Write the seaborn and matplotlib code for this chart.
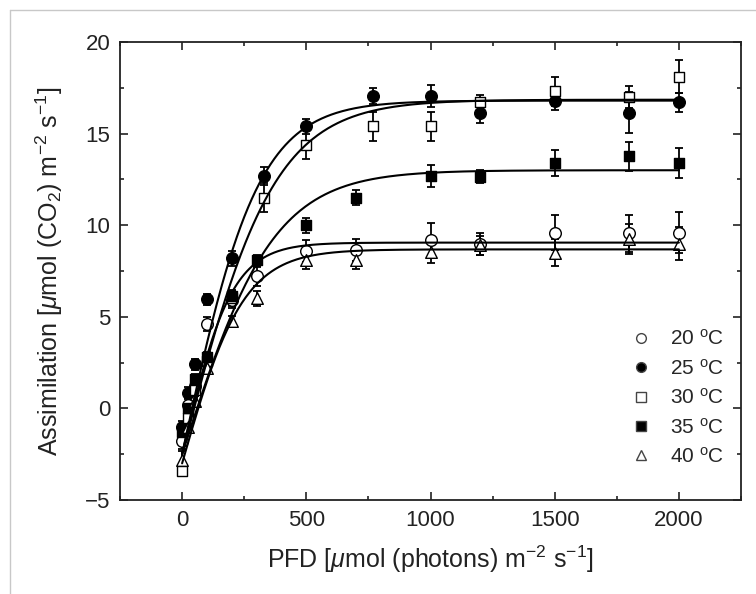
import numpy as np
import pandas as pd
import seaborn as sns
import matplotlib.pyplot as plt
from matplotlib.lines import Line2D
from matplotlib.ticker import MultipleLocator

# --- datos ---
pfd_a = [0, 25, 50, 100, 200, 300, 500, 700, 1000, 1200, 1500, 1800, 2000]
pfd_b = [0, 25, 50, 100, 200, 330, 500, 770, 1000, 1200, 1500, 1800, 2000]

a20 = [-1.8, 0.2, 1.2, 4.6, 5.9, 7.2, 8.6, 8.65, 9.2, 9.0, 9.6, 9.55, 9.6]
e20 = [0.4, 0.3, 0.3, 0.4, 0.4, 0.5, 0.6, 0.6, 0.9, 0.6, 0.95, 1.0, 1.1]
a25 = [-1.0, 0.85, 2.4, 5.95, 8.2, 12.7, 15.4, 17.05, 17.05, 16.1, 16.8, 16.15, 16.7]
e25 = [0.3, 0.3, 0.3, 0.3, 0.4, 0.5, 0.4, 0.45, 0.6, 0.5, 0.5, 1.1, 0.5]
a30 = [-3.4, -0.5, 1.0, 2.6, 6.0, 11.5, 14.4, 15.4, 15.4, 16.7, 17.3, 17.0, 18.1]
e30 = [0.3, 0.3, 0.3, 0.4, 0.4, 0.8, 0.8, 0.8, 0.8, 0.4, 0.8, 0.6, 0.9]
a35 = [-1.3, 0.0, 1.6, 2.8, 6.15, 8.1, 10.0, 11.5, 12.7, 12.65, 13.4, 13.75, 13.4]
e35 = [0.3, 0.3, 0.3, 0.3, 0.3, 0.3, 0.4, 0.4, 0.6, 0.35, 0.7, 0.8, 0.8]
a40 = [-2.8, -1.0, 0.4, 2.2, 4.75, 6.0, 8.1, 8.1, 8.55, 8.9, 8.5, 9.25, 9.0]
e40 = [0.5, 0.3, 0.3, 0.3, 0.3, 0.4, 0.5, 0.5, 0.6, 0.5, 0.75, 0.8, 0.9]

# parametros del ajuste (tanh): meseta, pendiente inicial, respiracion
etiquetas = ['20 $^{\\rm o}$C', '25 $^{\\rm o}$C', '30 $^{\\rm o}$C', '35 $^{\\rm o}$C', '40 $^{\\rm o}$C']
meseta = [9.05, 16.8, 16.85, 13.0, 8.68]
alfa = [0.058, 0.0627, 0.0522, 0.0419, 0.0472]
resp = [2.5, 2.5, 2.5, 2.5, 3.0]

series = [(pfd_a, a20, e20), (pfd_b, a25, e25), (pfd_b, a30, e30), (pfd_a, a35, e35), (pfd_a, a40, e40)]
marcadores = ['o', 'o', 's', 's', '^']
rellenos = ['white', 'black', 'white', 'black', 'white']
tamanos = [70, 70, 58, 58, 70]

sns.set_style('ticks')
plt.rcParams['font.family'] = ['Liberation Sans', 'DejaVu Sans']
plt.rcParams['mathtext.fontset'] = 'custom'
plt.rcParams['mathtext.rm'] = 'Liberation Sans'
plt.rcParams['mathtext.it'] = 'Liberation Sans:italic'

fig = plt.figure(figsize=(7.56, 5.94), dpi=100)
ax = fig.add_axes([120 / 756, 94 / 594, 621 / 756, 458 / 594])

# marco gris de la imagen
fig.add_artist(Line2D([10 / 756, 1], [1 - 10 / 594, 1 - 10 / 594], transform=fig.transFigure, color='#c8c8c8', lw=1))
fig.add_artist(Line2D([10 / 756, 10 / 756], [0, 1 - 10 / 594], transform=fig.transFigure, color='#c8c8c8', lw=1))

grid = np.linspace(0, 2000, 400)
for i, (x, y, e) in enumerate(series):
    df = pd.DataFrame({'PFD': x, 'A': y})
    ax.errorbar(x, y, yerr=e, fmt='none', ecolor='black', elinewidth=1.3, capsize=3, capthick=1.3, zorder=2)
    sns.scatterplot(data=df, x='PFD', y='A', marker=marcadores[i], s=tamanos[i], color=rellenos[i],
                    edgecolor='black', linewidth=1.0, ax=ax, zorder=3, legend=False)
    pm = meseta[i] + resp[i]
    curva = pm * np.tanh(alfa[i] * grid / pm) - resp[i]
    sns.lineplot(x=grid, y=curva, color='black', lw=1.5, ax=ax, zorder=4)

ax.set_xlim(-250, 2250)
ax.set_ylim(-5, 20)
ax.xaxis.set_major_locator(MultipleLocator(500))
ax.xaxis.set_minor_locator(MultipleLocator(250))
ax.yaxis.set_major_locator(MultipleLocator(5))
ax.yaxis.set_minor_locator(MultipleLocator(2.5))
ax.tick_params(which='both', direction='in', top=True, right=True, labeltop=False, labelright=False,
               width=1.2, colors='#222222', labelsize=16, pad=7)
ax.tick_params(which='major', length=6)
ax.tick_params(which='minor', length=3)
for s in ax.spines.values():
    s.set_linewidth(1.3)
    s.set_color('#222222')

ax.set_xlabel('PFD [$\\mu$mol (photons) m$^{-2}$ s$^{-1}$]', fontsize=18, color='#222222', labelpad=9)
ax.set_ylabel('Assimilation [$\\mu$mol (CO$_2$) m$^{-2}$ s$^{-1}$]', fontsize=18, color='#222222', labelpad=14)

handles = [Line2D([], [], marker=marcadores[i], ls='none', markerfacecolor=rellenos[i],
                  markeredgecolor='#444444', markersize=7) for i in range(5)]
ax.legend(handles, etiquetas, loc='lower right', bbox_to_anchor=(0.99, 0.05), frameon=False,
          fontsize=15, handlelength=1.2, handletextpad=0.8, labelspacing=0.45, borderpad=0)

fig.savefig('out.png', dpi=100)
